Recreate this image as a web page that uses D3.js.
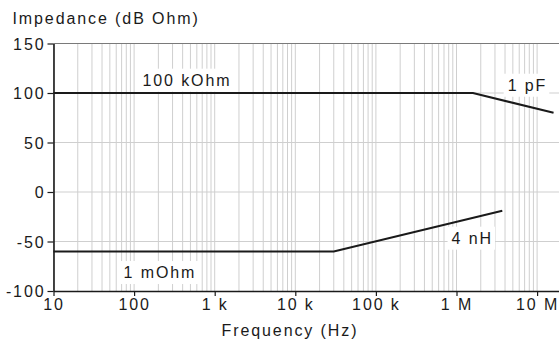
<!DOCTYPE html>
<html lang="en">
<head>
<meta charset="utf-8">
<script src="https://d3js.org/d3.v7.min.js"></script>
<style>
  body { margin: 0; background: #fff; }
  svg text { font-family: "Liberation Sans", Arial, sans-serif; font-size: 16px; letter-spacing: 1.9px; fill: #1a1a1a; }
</style>
</head>
<body>
<svg id="chart" width="559" height="349"></svg>
<script>
// data
var xTicks = [10, 100, 1e3, 1e4, 1e5, 1e6, 1e7]
var xTickLabels = ["10", "100", "1 k", "10 k", "100 k", "1 M", "10 M"]
var yTicks = [-100, -50, 0, 50, 100, 150]

var upperLine = [[10, 100], [1.6e6, 100], [1.6e7, 80]]     // 100 kOhm || 1 pF
var lowerLine = [[10, -60], [3e4, -60], [3.7e6, -19]]      // 1 mOhm + 4 nH

var labels = [
  { text: "100 kOhm", f: 452, v: 107.4 },
  { text: "1 pF", f: 7.6e6, v: 102.3 },
  { text: "4 nH", f: 1.57e6, v: -52.2 },
  { text: "1 mOhm", f: 209, v: -86.9 }
]

var plotLeft = 53.5, plotTop = 43.5, plotBottom = 291
var perDecade = 80.6

var svg = d3.select("#chart")

var x = d3.scaleLog().domain([10, 2e7]).range([plotLeft, plotLeft + perDecade * Math.log10(2e6)])
var y = d3.scaleLinear().domain([-100, 150]).range([plotBottom, plotTop])

// minor + major vertical grid
var gridX = []
for (var d = 10; d <= 1e7; d *= 10)
  for (var m = 1; m <= 9; m++)
    if (d * m <= 2e7) gridX.push(d * m)
gridX.push(2e7)

var grid = svg.append("g")
grid.selectAll("line.vx").data(gridX).enter().append("line")
  .attr("x1", d => x(d)).attr("x2", d => x(d))
  .attr("y1", y(150)).attr("y2", y(-100))
  .attr("stroke", "#cfcfcf").attr("stroke-width", 1)
grid.selectAll("line.hy").data(yTicks.filter(v => v > -100 && v < 150)).enter().append("line")
  .attr("x1", x(10)).attr("x2", 559)
  .attr("y1", d => y(d)).attr("y2", d => y(d))
  .attr("stroke", "#cfcfcf").attr("stroke-width", 1)
// top border
grid.append("line")
  .attr("x1", x(10)).attr("x2", 559)
  .attr("y1", y(150)).attr("y2", y(150))
  .attr("stroke", "#7a7a7a").attr("stroke-width", 1.2)

// curves
var line = d3.line().x(d => x(d[0])).y(d => y(d[1]))
svg.selectAll("path.curve").data([upperLine, lowerLine]).enter().append("path")
  .attr("class", "curve")
  .attr("d", line)
  .attr("fill", "none").attr("stroke", "#1a1a1a").attr("stroke-width", 2)

// labels with white boxes
var lg = svg.selectAll("g.lbl").data(labels).enter().append("g").attr("class", "lbl")
lg.append("text")
  .attr("x", d => x(d.f)).attr("y", d => y(d.v))
  .attr("text-anchor", "middle")
  .text(d => d.text)
lg.each(function () {
  var t = d3.select(this).select("text")
  var b = t.node().getBBox()
  d3.select(this).insert("rect", "text")
    .attr("x", b.x - 4).attr("y", b.y - 3)
    .attr("width", b.width + 6).attr("height", b.height + 6)
    .attr("fill", "#fff")
})

// axes
var xAxis = d3.axisBottom(x).tickValues(xTicks)
  .tickFormat((d, i) => xTickLabels[i]).tickSize(5).tickSizeOuter(0).tickPadding(3)
var gx = svg.append("g").attr("transform", "translate(0," + plotBottom + ")").call(xAxis)
var yAxis = d3.axisLeft(y).tickValues(yTicks).tickFormat(d => String(d))
  .tickSize(6).tickSizeOuter(0).tickPadding(2)
var gy = svg.append("g").attr("transform", "translate(" + plotLeft + ",0)").call(yAxis)

svg.selectAll(".domain").attr("stroke", "#1a1a1a").attr("stroke-width", 1.6)
svg.selectAll(".tick line").attr("stroke", "#1a1a1a").attr("stroke-width", 1.2)
svg.selectAll(".tick text").attr("font-size", null).attr("font-family", null).attr("fill", null)
gy.selectAll(".tick text").attr("dy", "0.36em")

// titles
svg.append("text").attr("x", 12.5).attr("y", 23.5).text("Impedance (dB Ohm)")
svg.append("text").attr("x", 290).attr("y", 336).attr("text-anchor", "middle").text("Frequency (Hz)")
</script>
</body>
</html>
